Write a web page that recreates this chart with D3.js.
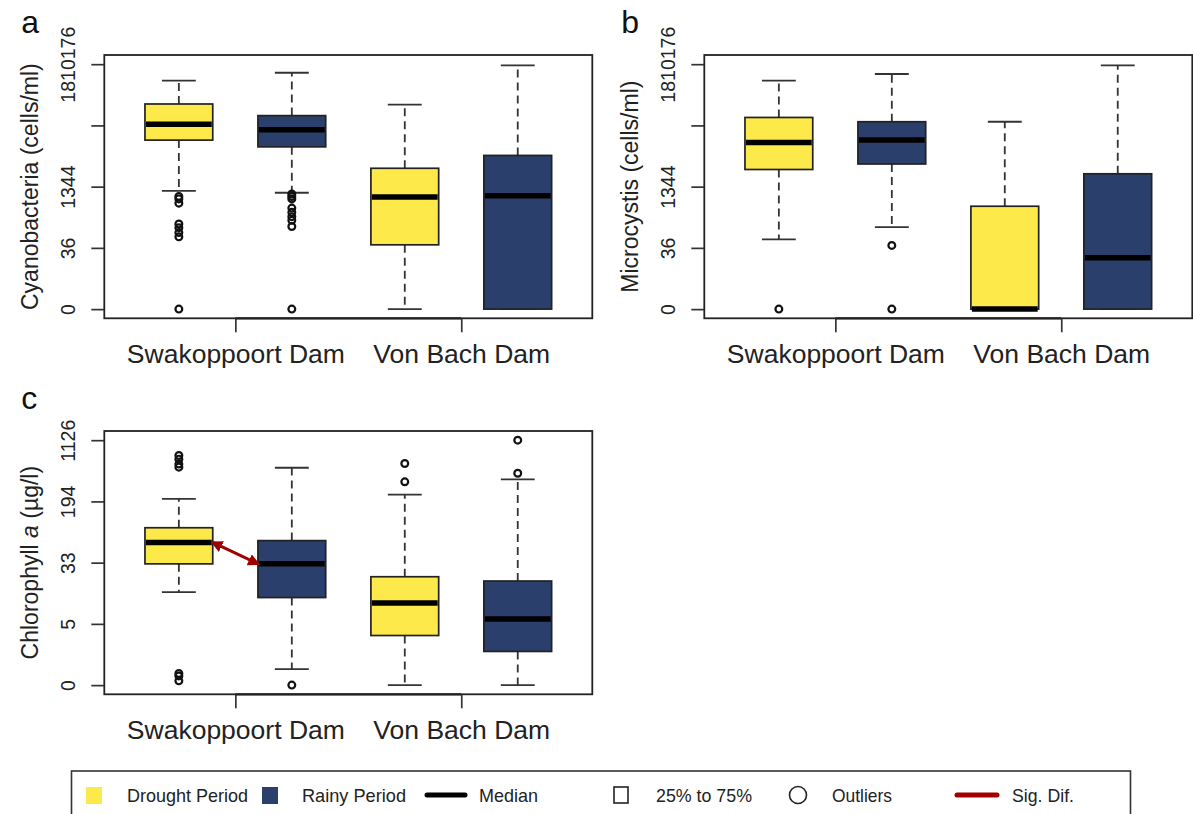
<!DOCTYPE html>
<html>
<head>
<meta charset="utf-8">
<script src="https://cdn.jsdelivr.net/npm/d3@7"></script>
<style>
  body { margin: 0; background: #fff; }
  svg { display: block; font-family: "Liberation Sans", Arial, sans-serif; }
</style>
</head>
<body>
<svg id="chart" width="1193" height="814"></svg>
<script>
// dam groups on the x axis, two periods per dam
const dams = ["Swakoppoort Dam", "Von Bach Dam"];
const periods = ["Drought Period", "Rainy Period"];
const periodColors = ["#FEE94A", "#2A3F6B"];

// y ticks sit on an evenly spaced (transformed) scale 0..4
const tickPos = [0, 1, 2, 3, 4];
const cellTickLabels = ["0", "36", "1344", "", "1810176"];
const chlTickLabels = ["0", "5", "33", "194", "1126"];

// box stats in tick units: [lowWhisker, q1, median, q3, highWhisker]
// order: Swakoppoort drought, Swakoppoort rainy, Von Bach drought, Von Bach rainy
const cyanoStats = [
  [1.93, 2.76, 3.02, 3.35, 3.73],
  [1.90, 2.65, 2.93, 3.16, 3.86],
  [0.00, 1.05, 1.83, 2.30, 3.34],
  [0.00, 0.00, 1.85, 2.51, 3.98]
];
const cyanoOutliers = [
  [1.84, 1.80, 1.73, 1.39, 1.33, 1.25, 1.18, 0],
  [1.88, 1.84, 1.80, 1.65, 1.58, 1.51, 1.45, 1.35, 0],
  [],
  []
];

const microStats = [
  [1.14, 2.28, 2.72, 3.13, 3.73],
  [1.34, 2.37, 2.76, 3.06, 3.84],
  [0.00, 0.00, 0.00, 1.68, 3.06],
  [0.00, 0.00, 0.84, 2.21, 3.98]
];
const microOutliers = [
  [0],
  [1.04, 0],
  [],
  []
];

const chlStats = [
  [1.52, 1.98, 2.33, 2.57, 3.04],
  [0.26, 1.43, 1.98, 2.36, 3.55],
  [0.00, 0.81, 1.34, 1.77, 3.11],
  [0.00, 0.55, 1.08, 1.70, 3.36]
];
const chlOutliers = [
  [3.75, 3.69, 3.61, 3.56, 0.19, 0.15, 0.07],
  [0],
  [3.62, 3.32],
  [4.0, 3.46]
];

// significant difference arrow: between box indexes (at their medians)
const sigPairs = [[0, 1]];

const legendLabels = ["Drought Period", "Rainy Period", "Median", "25% to 75%", "Outliers", "Sig. Dif."];

const svg = d3.select("#chart");
const plotW = 488, plotH = 263.3;
const boxW = 0.6;
const sigColor = "#A00000";

const defs = svg.append("defs");
defs.append("marker")
  .attr("id", "arrow")
  .attr("viewBox", "0 0 10 10")
  .attr("refX", 8).attr("refY", 5)
  .attr("markerWidth", 4).attr("markerHeight", 4)
  .attr("markerUnits", "strokeWidth")
  .attr("orient", "auto-start-reverse")
  .append("path")
  .attr("d", "M0,0 L10,5 L0,10 z")
  .attr("fill", sigColor);

const panels = [
  { letter: "a", x0: 104.3, y0: 55, stats: cyanoStats, outliers: cyanoOutliers, labels: cellTickLabels, title: "Cyanobacteria (cells/ml)", sig: [] },
  { letter: "b", x0: 704.3, y0: 55, stats: microStats, outliers: microOutliers, labels: cellTickLabels, title: "Microcystis (cells/ml)", sig: [] },
  { letter: "c", x0: 104.3, y0: 431, stats: chlStats, outliers: chlOutliers, labels: chlTickLabels, title: null, sig: sigPairs }
];

panels.forEach(drawPanel);
drawLegend();

function drawPanel(p) {
  const x = d3.scaleLinear().domain([0.34, 4.66]).range([p.x0, p.x0 + plotW]);
  const y = d3.scaleLinear().domain([-0.15, 4.15]).range([p.y0 + plotH, p.y0]);
  const g = svg.append("g");

  // boxes
  p.stats.forEach((s, i) => {
    const pos = i + 1;
    const [lo, q1, med, q3, hi] = s;
    const col = periodColors[i % 2];
    const cx = x(pos);
    const capHalf = (x(pos + boxW / 4) - x(pos));

    // whiskers
    g.append("line").attr("x1", cx).attr("x2", cx).attr("y1", y(q3)).attr("y2", y(hi))
      .attr("stroke", "#333").attr("stroke-width", 1.8).attr("stroke-dasharray", "8,5");
    g.append("line").attr("x1", cx).attr("x2", cx).attr("y1", y(q1)).attr("y2", y(lo))
      .attr("stroke", "#333").attr("stroke-width", 1.8).attr("stroke-dasharray", "8,5");
    [lo, hi].forEach(v => {
      g.append("line").attr("x1", cx - capHalf).attr("x2", cx + capHalf).attr("y1", y(v)).attr("y2", y(v))
        .attr("stroke", "#333").attr("stroke-width", 1.8);
    });

    g.append("rect")
      .attr("x", x(pos - boxW / 2))
      .attr("y", y(q3))
      .attr("width", x(pos + boxW / 2) - x(pos - boxW / 2))
      .attr("height", Math.max(0, y(q1) - y(q3)))
      .attr("fill", col)
      .attr("stroke", "#222")
      .attr("stroke-width", 1.7);

    g.append("line")
      .attr("x1", x(pos - boxW / 2) + 1).attr("x2", x(pos + boxW / 2) - 1)
      .attr("y1", y(med)).attr("y2", y(med))
      .attr("stroke", "#000").attr("stroke-width", 5.5);

    p.outliers[i].forEach(v => {
      g.append("circle").attr("cx", cx).attr("cy", y(v)).attr("r", 3.4)
        .attr("fill", "none").attr("stroke", "#111").attr("stroke-width", 2.2);
    });
  });

  // sig. dif. arrows
  p.sig.forEach(([a, b]) => {
    g.append("line")
      .attr("x1", x(a + 1 + boxW / 2)).attr("y1", y(p.stats[a][2]))
      .attr("x2", x(b + 1 - boxW / 2)).attr("y2", y(p.stats[b][2]))
      .attr("stroke", sigColor).attr("stroke-width", 3)
      .attr("marker-start", "url(#arrow)").attr("marker-end", "url(#arrow)");
  });

  // frame
  g.append("rect")
    .attr("x", p.x0).attr("y", p.y0).attr("width", plotW).attr("height", plotH)
    .attr("fill", "none").attr("stroke", "#222").attr("stroke-width", 1.8);

  // y axis
  const yAxis = g.append("g")
    .attr("transform", `translate(${p.x0},0)`)
    .call(d3.axisLeft(y).tickValues(tickPos).tickSize(13).tickFormat((d, i) => p.labels[i]));
  yAxis.select(".domain").remove();
  yAxis.selectAll(".tick line").attr("stroke", "#333").attr("stroke-width", 1.7);
  yAxis.selectAll(".tick text")
    .attr("transform", "rotate(-90)")
    .attr("x", 0).attr("y", -29).attr("dy", 0)
    .attr("text-anchor", "middle")
    .attr("font-size", 19.5).attr("fill", "#222");

  // x axis
  const xAxis = g.append("g")
    .attr("transform", `translate(0,${p.y0 + plotH})`)
    .call(d3.axisBottom(x).tickValues([1.5, 3.5]).tickSize(14).tickFormat((d, i) => dams[i]));
  xAxis.select(".domain").remove();
  xAxis.selectAll(".tick line").attr("stroke", "#333").attr("stroke-width", 1.7);
  xAxis.selectAll(".tick text")
    .attr("y", 45).attr("dy", 0)
    .attr("font-size", 26.5).attr("fill", "#222");
  g.append("line")
    .attr("x1", x(1.5)).attr("x2", x(3.5))
    .attr("y1", p.y0 + plotH).attr("y2", p.y0 + plotH)
    .attr("stroke", "#222").attr("stroke-width", 2.2);

  // y title
  const midY = p.y0 + plotH / 2;
  const title = g.append("text")
    .attr("transform", `translate(${p.x0 - 66},${midY}) rotate(-90)`)
    .attr("text-anchor", "middle")
    .attr("font-size", 23).attr("fill", "#222");
  if (p.title) {
    title.text(p.title);
  } else {
    title.append("tspan").text("Chlorophyll ");
    title.append("tspan").attr("font-style", "italic").text("a");
    title.append("tspan").text(" (µg/l)");
  }

  // panel letter
  g.append("text")
    .attr("x", p.x0 - 83).attr("y", p.y0 - 22)
    .attr("font-size", 32).attr("fill", "#111")
    .text(p.letter);
}

function drawLegend() {
  const lg = svg.append("g").attr("font-family", "'Liberation Sans Narrow', 'Arial Narrow', sans-serif");
  lg.append("rect")
    .attr("x", 71.5).attr("y", 771).attr("width", 1059).attr("height", 70)
    .attr("fill", "#fff").attr("stroke", "#333").attr("stroke-width", 1.6);

  const cy = 795;
  lg.append("rect").attr("x", 86).attr("y", 787).attr("width", 16).attr("height", 17).attr("fill", periodColors[0]);
  lg.append("rect").attr("x", 262).attr("y", 787).attr("width", 16).attr("height", 17).attr("fill", periodColors[1]);
  lg.append("line").attr("x1", 427).attr("x2", 465).attr("y1", cy).attr("y2", cy)
    .attr("stroke", "#000").attr("stroke-width", 5).attr("stroke-linecap", "round");
  lg.append("rect").attr("x", 614).attr("y", 787).attr("width", 14).attr("height", 16)
    .attr("fill", "none").attr("stroke", "#222").attr("stroke-width", 1.6);
  lg.append("circle").attr("cx", 798).attr("cy", cy).attr("r", 8.5)
    .attr("fill", "none").attr("stroke", "#222").attr("stroke-width", 1.6);
  lg.append("line").attr("x1", 957).attr("x2", 997).attr("y1", cy).attr("y2", cy)
    .attr("stroke", sigColor).attr("stroke-width", 5).attr("stroke-linecap", "round");

  const textX = [127, 302, 479, 656, 832, 1012];
  const textW = [121, 104, 59, 96, 60, 62];
  legendLabels.forEach((t, i) => {
    lg.append("text")
      .attr("x", textX[i]).attr("y", 801.5)
      .attr("font-size", 19).attr("fill", "#222")
      .attr("textLength", textW[i]).attr("lengthAdjust", "spacingAndGlyphs")
      .text(t);
  });
}
</script>
</body>
</html>
